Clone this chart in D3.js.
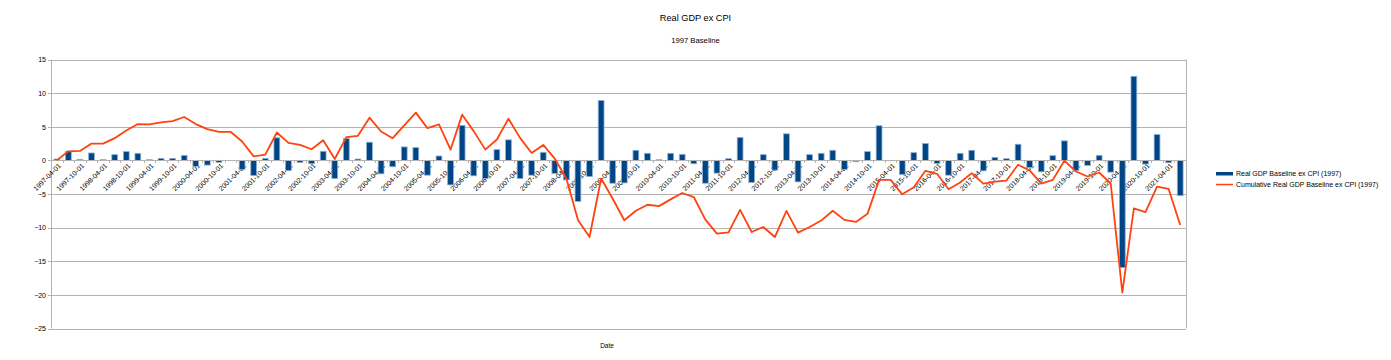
<!DOCTYPE html>
<html><head><meta charset="utf-8">
<script src="https://cdn.jsdelivr.net/npm/d3@7"></script>
<style>
html,body{margin:0;padding:0;background:#fff;}
svg{display:block;font-family:"Liberation Sans",Arial,sans-serif;}
</style></head>
<body>
<svg id="chart" width="1391" height="360"></svg>
<script>
const dates = [
"1997-04-01","1997-07-01","1997-10-01","1998-01-01","1998-04-01","1998-07-01","1998-10-01",
"1999-01-01","1999-04-01","1999-07-01","1999-10-01","2000-01-01","2000-04-01","2000-07-01","2000-10-01",
"2001-01-01","2001-04-01","2001-07-01","2001-10-01","2002-01-01","2002-04-01","2002-07-01","2002-10-01",
"2003-01-01","2003-04-01","2003-07-01","2003-10-01","2004-01-01","2004-04-01","2004-07-01","2004-10-01",
"2005-01-01","2005-04-01","2005-07-01","2005-10-01","2006-01-01","2006-04-01","2006-07-01","2006-10-01",
"2007-01-01","2007-04-01","2007-07-01","2007-10-01","2008-01-01","2008-04-01","2008-07-01","2008-10-01",
"2009-01-01","2009-04-01","2009-07-01","2009-10-01","2010-01-01","2010-04-01","2010-07-01","2010-10-01",
"2011-01-01","2011-04-01","2011-07-01","2011-10-01","2012-01-01","2012-04-01","2012-07-01","2012-10-01",
"2013-01-01","2013-04-01","2013-07-01","2013-10-01","2014-01-01","2014-04-01","2014-07-01","2014-10-01",
"2015-01-01","2015-04-01","2015-07-01","2015-10-01","2016-01-01","2016-04-01","2016-07-01","2016-10-01",
"2017-01-01","2017-04-01","2017-07-01","2017-10-01","2018-01-01","2018-04-01","2018-07-01","2018-10-01",
"2019-01-01","2019-04-01","2019-07-01","2019-10-01","2020-01-01","2020-04-01","2020-07-01","2020-10-01",
"2021-01-01","2021-04-01","2021-07-01"
];
const quarterly = [
0.2,1.35,0.15,1.1,0.1,0.85,1.3,
1.05,0.1,0.3,0.3,0.75,-0.9,-0.7,-0.3,
0.0,-1.35,-2.25,0.3,3.35,-1.5,-0.3,-0.5,
1.35,-2.7,3.25,0.2,2.7,-2.0,-0.95,2.0,
1.9,-2.2,0.65,-3.65,5.2,-2.3,-2.7,1.6,
3.05,-2.7,-2.2,1.2,-1.95,-2.9,-6.1,-2.4,
8.9,-3.4,-3.35,1.5,1.05,0.1,1.05,0.9,
-0.5,-3.4,-1.9,0.25,3.4,-3.3,0.85,-1.45,
3.95,-3.2,0.85,1.05,1.5,-1.35,-0.2,1.3,
5.15,-0.05,-2.1,1.15,2.5,-0.45,-2.2,1.05,
1.5,-1.55,0.45,0.25,2.4,-1.05,-1.7,0.7,
2.9,-1.5,-0.75,0.75,-1.75,-15.95,12.5,-0.55,
3.85,-0.35,-5.25
];
const cumulative = [
0,1.35,1.4,2.5,2.5,3.3,4.45,
5.4,5.35,5.65,5.85,6.45,5.4,4.65,4.25,
4.25,2.8,0.6,0.85,4.15,2.6,2.3,1.65,
3.0,0.2,3.45,3.65,6.35,4.3,3.3,5.2,
7.1,4.8,5.35,1.6,6.8,4.35,1.6,3.1,
6.2,3.35,1.1,2.3,0.25,-2.7,-8.85,-11.4,
-2.7,-5.7,-8.9,-7.5,-6.6,-6.8,-5.8,-4.85,
-5.45,-8.8,-10.9,-10.7,-7.35,-10.65,-9.9,-11.4,
-7.5,-10.75,-9.9,-8.95,-7.5,-8.85,-9.15,-7.95,
-2.9,-2.9,-5.05,-4.0,-1.55,-2.0,-4.3,-3.3,
-1.9,-3.45,-3.15,-3.0,-0.65,-1.5,-3.45,-2.9,
-0.05,-1.65,-2.4,-1.8,-3.45,-19.65,-7.15,-7.7,
-3.9,-4.25,-9.6
];
const yTicks = [15,10,5,0,-5,-10,-15,-20,-25];
const seriesNames = ["Real GDP Baseline ex CPI (1997)","Cumulative Real GDP Baseline ex CPI (1997)"];
const titleText = "Real GDP ex CPI";
const subtitleText = "1997 Baseline";
const xTitle = "Date";

const svg = d3.select("#chart");
const L = 51, R = 1186, T = 59.5, B = 328.5;
const x = d3.scaleBand().domain(dates).range([L, R]).padding(0);
const y = d3.scaleLinear().domain([-25, 15]).range([B, T]);
const gridCol = "#b3b3b3", barCol = "#004586", barEdge = "#8fb0d4", lineCol = "#ff420e";

// titles
svg.append("text").attr("x", 695.5).attr("y", 21).attr("text-anchor","middle")
  .attr("font-size", 9.2).attr("fill","#000").text(titleText);
svg.append("text").attr("x", 695.5).attr("y", 43).attr("text-anchor","middle")
  .attr("font-size", 7.7).attr("fill","#000").text(subtitleText);

// gridlines
const grid = svg.append("g");
yTicks.forEach(t => {
  const yy = Math.round(y(t)) + 0.5;
  grid.append("line").attr("x1", L - 3).attr("x2", R).attr("y1", yy).attr("y2", yy)
    .attr("stroke", gridCol).attr("stroke-width", 1);
});
// plot border
svg.append("line").attr("x1", L + 0.5).attr("x2", L + 0.5).attr("y1", y(15)).attr("y2", y(-25)).attr("stroke", gridCol);
svg.append("line").attr("x1", R + 0.5).attr("x2", R + 0.5).attr("y1", y(15)).attr("y2", y(-25)).attr("stroke", gridCol);

// y labels
const yAxis = d3.axisLeft(y).tickValues(yTicks).tickSize(0).tickPadding(5);
const ya = svg.append("g").attr("transform", `translate(${L},0)`).call(yAxis);
ya.select(".domain").remove();
ya.selectAll("text").attr("font-size", 7).attr("font-family", "Liberation Sans, Arial, sans-serif").attr("fill","#000");

// x axis at zero (labels under bars)
const zy = Math.round(y(0)) + 0.5;
const xg = svg.append("g");
dates.forEach((d, i) => {
  if (i % 2 !== 0) return;
  const cx = x(d) + x.bandwidth() / 2;
  xg.append("text").attr("transform", `translate(${cx + 3},${zy + 4}) rotate(-45)`)
    .attr("text-anchor", "end").attr("dy", "0.35em").attr("font-size", 7).attr("fill", "#000").text(d);
});

// bars
const bw = x.bandwidth() * 0.5;
svg.append("g").selectAll("rect").data(dates).join("rect")
  .attr("x", d => x(d) + (x.bandwidth() - bw) / 2)
  .attr("width", bw)
  .attr("y", (d, i) => y(Math.max(0, quarterly[i])))
  .attr("height", (d, i) => Math.abs(y(quarterly[i]) - y(0)))
  .attr("fill", barCol).attr("stroke", barEdge).attr("stroke-width", 0.8);

svg.append("line").attr("x1", L).attr("x2", R).attr("y1", zy).attr("y2", zy).attr("stroke", gridCol);
dates.forEach((d, i) => {
  const bx = Math.round(x(d)) + 0.5;
  if (i > 0) xg.append("line").attr("x1", bx).attr("x2", bx).attr("y1", zy).attr("y2", zy + 2.5).attr("stroke", gridCol);
});

// line
const line = d3.line().x((d, i) => x(dates[i]) + x.bandwidth() / 2).y(d => y(d));
svg.append("path").datum(cumulative).attr("d", line).attr("fill", "none")
  .attr("stroke", lineCol).attr("stroke-width", 1.8).attr("stroke-linejoin", "round");

// x title
svg.append("text").attr("x", 607).attr("y", 348).attr("text-anchor", "middle")
  .attr("font-size", 6.5).attr("fill", "#000").text(xTitle);

// legend
const lg = svg.append("g");
lg.append("rect").attr("x", 1216).attr("y", 172).attr("width", 17).attr("height", 3.5).attr("fill", barCol);
lg.append("text").attr("x", 1236).attr("y", 176).attr("font-size", 7).attr("fill", "#000").text(seriesNames[0]);
lg.append("line").attr("x1", 1216).attr("x2", 1233).attr("y1", 184.5).attr("y2", 184.5).attr("stroke", lineCol).attr("stroke-width", 1.5);
lg.append("text").attr("x", 1236).attr("y", 187).attr("font-size", 7).attr("fill", "#000").text(seriesNames[1]);
</script>
</body></html>
